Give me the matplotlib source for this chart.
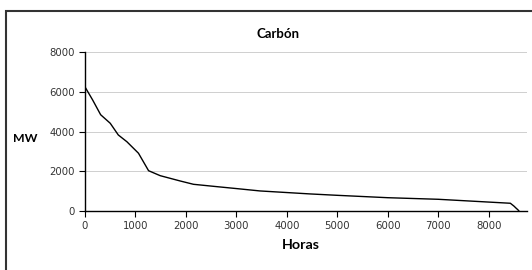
import matplotlib
matplotlib.use('Agg')
import matplotlib.pyplot as plt
from matplotlib.patches import Rectangle

# duration curve
horas = [0, 150, 310, 500, 660, 830, 1060, 1260, 1490, 1890, 2150, 2600, 3000,
         3470, 4460, 5000, 6000, 7000, 8000, 8430, 8500, 8545, 8580, 8600]
mw = [6250, 5600, 4850, 4420, 3830, 3490, 2910, 2030, 1780, 1510, 1345, 1230, 1130,
      1010, 860, 790, 670, 590, 450, 390, 250, 140, 60, 0]
xticks = [0, 1000, 2000, 3000, 4000, 5000, 6000, 7000, 8000]
yticks = [0, 2000, 4000, 6000, 8000]

plt.rcParams['font.family'] = ['Lato', 'DejaVu Sans']

fig = plt.figure(figsize=(5.32, 2.70), dpi=100)
ax = fig.add_axes([85 / 532, 1 - 211 / 270, 442 / 532, 158.8 / 270])

ax.plot(horas, mw, color='black', linewidth=1.0)
ax.set_xlim(0, 8760)
ax.set_ylim(0, 8000)
ax.set_xticks(xticks)
ax.set_yticks(yticks)
ax.tick_params(length=4, width=0.8, colors='black', labelcolor='#333333')
for lab in ax.get_xticklabels() + ax.get_yticklabels():
    lab.set_family('DejaVu Sans')
    lab.set_fontsize(7.3)
ax.grid(axis='y', color='#c8c8c8', linewidth=0.6)
ax.set_axisbelow(True)
for s in ['top', 'right']:
    ax.spines[s].set_visible(False)
for s in ['left', 'bottom']:
    ax.spines[s].set_linewidth(1.0)

fig.text(278 / 532, 1 - 33.5 / 270, 'Carbón', ha='center', va='center', fontsize=9.5, fontweight='bold')
fig.text(25 / 532, 1 - 138 / 270, 'MW', ha='center', va='center', fontsize=8.8, fontweight='bold')
fig.text(301 / 532, 1 - 245 / 270, 'Horas', ha='center', va='center', fontsize=10.3, fontweight='bold')

# outer frame, cut off at right and bottom edge
fig.patches.append(Rectangle((5.5 / 532, -0.1), 1.2, 1 - 10.5 / 270 + 0.1,
                             transform=fig.transFigure, fill=False,
                             edgecolor='#333333', linewidth=1.5))

fig.savefig('out.png', dpi=100)
